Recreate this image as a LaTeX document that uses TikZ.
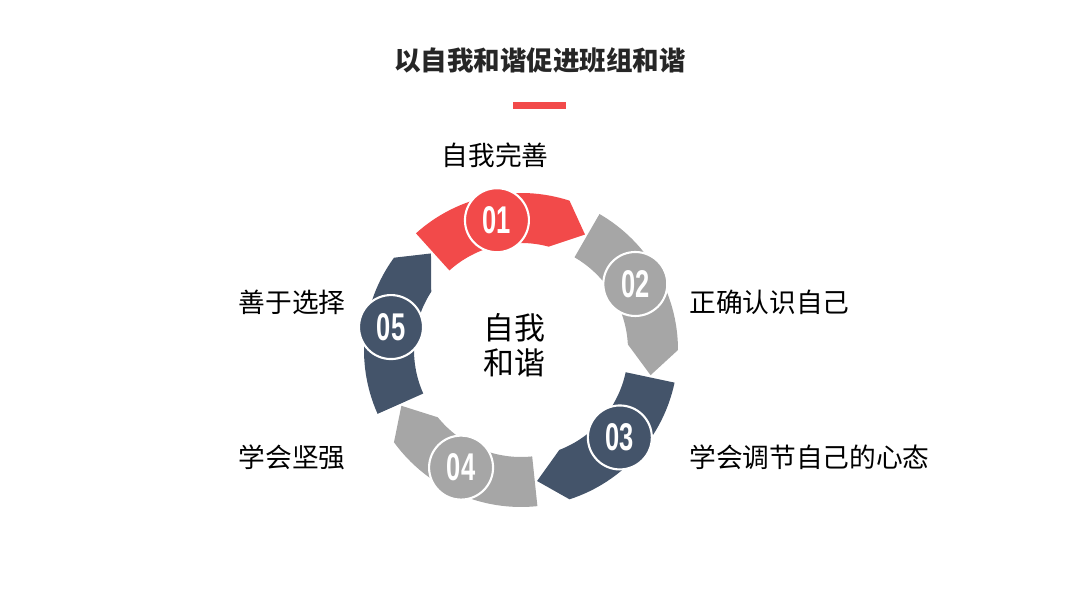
\documentclass[tikz,border=0pt]{standalone}
\usepackage{fontspec}
\setmainfont{Noto Sans CJK SC}
\newfontfamily\numfont{Liberation Sans}
\definecolor{hongse}{HTML}{F24A4A}
\definecolor{huise}{HTML}{A6A6A6}
\definecolor{lanse}{HTML}{44546A}
\definecolor{chuse}{HTML}{262626}

\begin{document}
\begin{tikzpicture}[
        x=0.02cm, y=0.02cm,
        badge/.style={circle, draw=white, line width=1.2pt, minimum size=1.28cm, inner sep=0pt,
            text=white, font=\numfont\bfseries\fontsize{22}{22}\selectfont},
        itemtext/.style={inner sep=0pt, font=\fontsize{15.2}{18}\selectfont}
    ]
        \useasboundingbox (0,0) rectangle (1080,608);

        % Tiêu đề
        \node [text=chuse, font=\bfseries\fontsize{15.1}{18}\selectfont](title) at (540,548) {以自我和谐促进班组和谐};
        \fill [hongse] (513,499) rectangle (566,506);

        % Các mũi tên vòng tròn
        \begin{scope}[shift={(521,258)}]
            \foreach \t/\c in {132/hongse, 60/huise, -12/lanse, -84/huise, -156/lanse}
                \fill [\c] (\t:157) arc[start angle=\t, end angle=\t-60, radius=157]
                    -- (\t-71:132) -- (\t-57:107)
                    arc[start angle=\t-57, end angle=\t, radius=107] -- cycle;
            \foreach \n/\a/\c in {1/100.5/hongse, 2/30/huise, 3/-41.5/lanse, 4/-117/huise, 5/170/lanse}
                \node [badge, fill=\c](b\n) at (\a:132) {\scalebox{0.66}[1]{0\n}};
        \end{scope}

        % Chữ ở giữa
        \node [align=center, font=\fontsize{17.6}{19.8}\selectfont](centre) at (514,263) {自我\\和谐};

        % Các nhãn
        \node [itemtext](t1) at (495,453) {自我完善};
        \node [itemtext, anchor=west](t2) at (689,306) {正确认识自己};
        \node [itemtext, anchor=west](t3) at (689,151) {学会调节自己的心态};
        \node [itemtext, anchor=east](t4) at (346,151) {学会坚强};
        \node [itemtext, anchor=east](t5) at (346,306) {善于选择};
    \end{tikzpicture}
\end{document}
